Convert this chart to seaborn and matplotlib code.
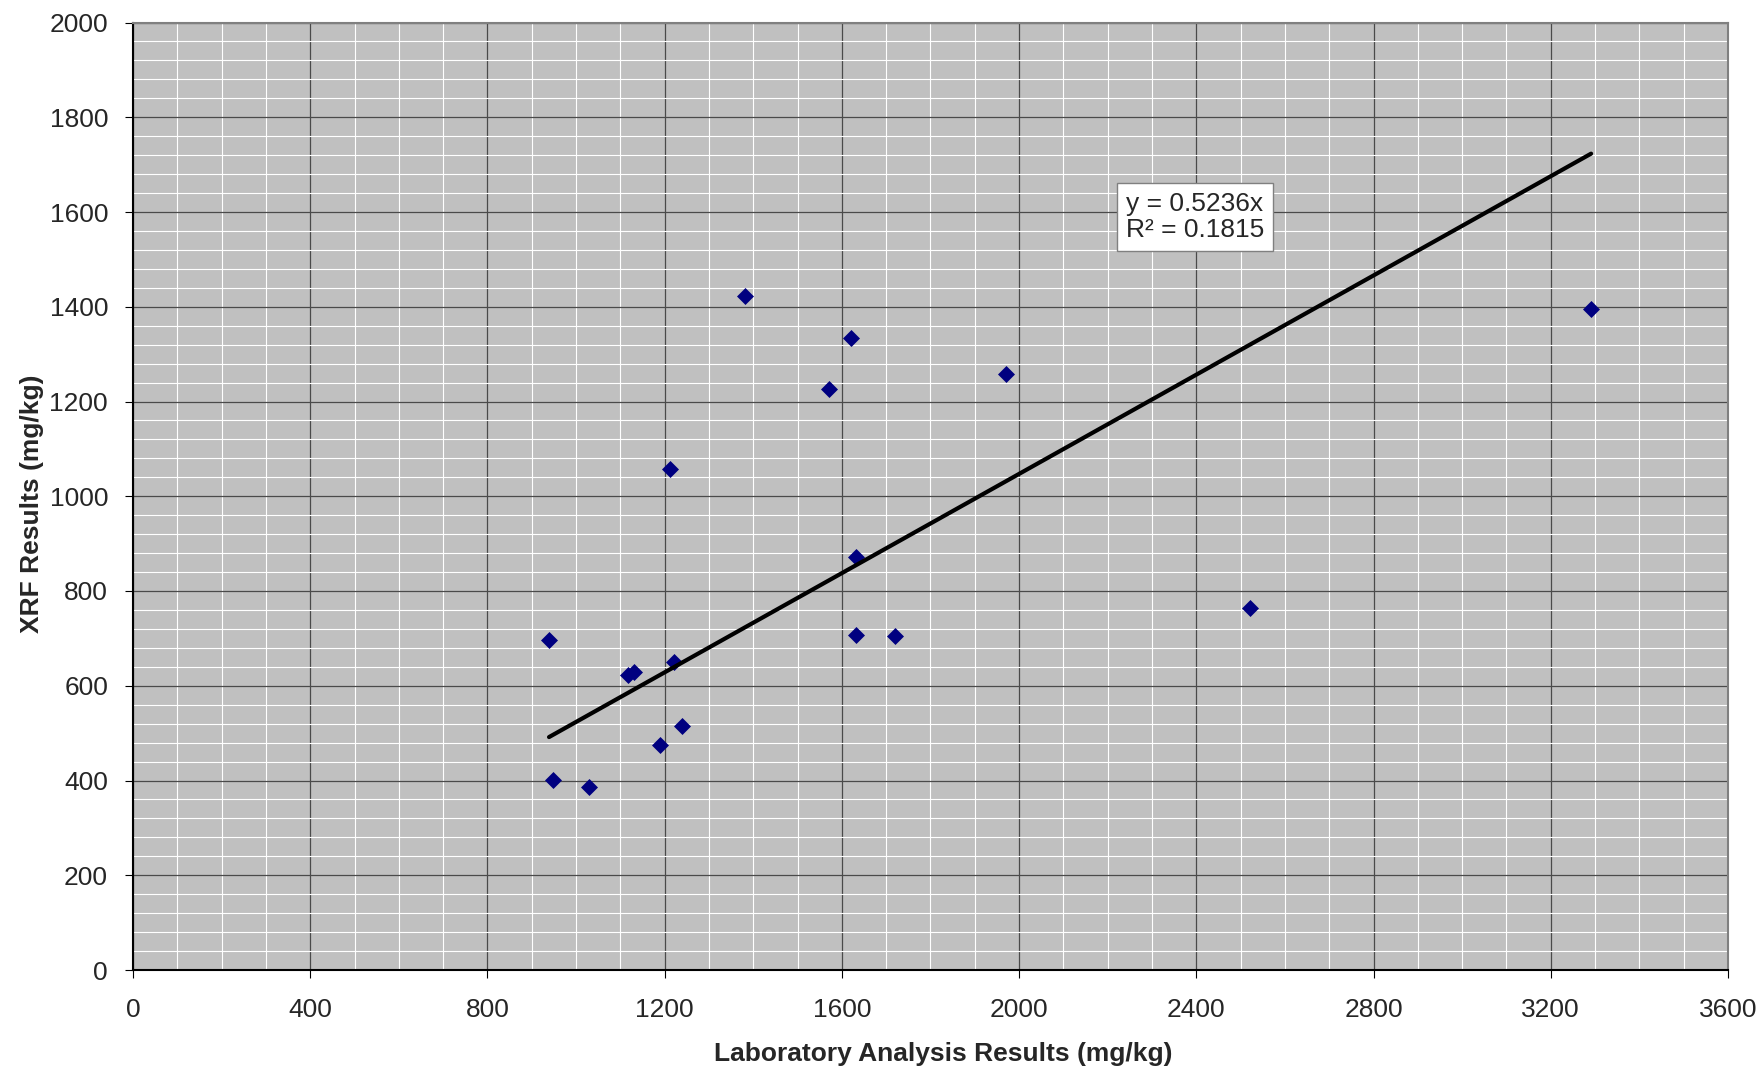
import numpy as np
import pandas as pd
import matplotlib
matplotlib.use("Agg")
import matplotlib.pyplot as plt
from matplotlib.ticker import MultipleLocator
import seaborn as sns

# ── Data ──────────────────────────────────────────────────────────────────────
lab_results = [939, 949, 1030, 1118, 1130, 1190, 1211, 1220, 1240, 1381,
               1571, 1621, 1631, 1631, 1720, 1971, 2521, 3291]
xrf_results = [697, 402, 386, 623, 630, 475, 1058, 650, 515, 1422,
               1226, 1334, 871, 708, 706, 1257, 764, 1396]
trend_slope = 0.5236
trend_r2 = 0.1815

x_ticks = [0, 400, 800, 1200, 1600, 2000, 2400, 2800, 3200, 3600]
y_ticks = [0, 200, 400, 600, 800, 1000, 1200, 1400, 1600, 1800, 2000]

df = pd.DataFrame({"lab": lab_results, "xrf": xrf_results})
trend = pd.DataFrame({"lab": [df["lab"].min(), df["lab"].max()]})
trend["xrf"] = trend_slope * trend["lab"]

# ── Style ─────────────────────────────────────────────────────────────────────
sns.set_theme(style="white")
plt.rcParams["font.family"] = ["Liberation Sans", "DejaVu Sans"]
FS = 19

fig = plt.figure(figsize=(17.65, 10.7), dpi=100)
W, H = 1765, 1070
left, right, top, bottom = 133, 1728, 22.5, 970
ax = fig.add_axes([left / W, 1 - bottom / H, (right - left) / W, (bottom - top) / H])
ax.set_facecolor("#c0c0c0")

sns.scatterplot(data=df, x="lab", y="xrf", marker="D", s=75, color="#000080",
                linewidth=0, ax=ax, zorder=3)
sns.lineplot(data=trend, x="lab", y="xrf", color="black", linewidth=3.0,
             ax=ax, zorder=4)

ax.set_xlim(0, 3600)
ax.set_ylim(0, 2000)
ax.set_xticks(x_ticks)
ax.set_yticks(y_ticks)
ax.xaxis.set_minor_locator(MultipleLocator(100))
ax.yaxis.set_minor_locator(MultipleLocator(40))

ax.grid(which="minor", color="white", linewidth=0.8, zorder=0)
ax.grid(which="major", color="#4a4a4a", linewidth=0.9, zorder=1)
ax.set_axisbelow(True)

ax.tick_params(which="major", direction="out", length=6, width=0.8,
               color="black", labelsize=FS, bottom=True, left=True)
ax.tick_params(axis="x", pad=14)
ax.tick_params(axis="y", pad=12)
ax.tick_params(which="minor", length=0)

for side in ["top", "right"]:
    ax.spines[side].set_color("#808080")
    ax.spines[side].set_linewidth(1.5)
for side in ["left", "bottom"]:
    ax.spines[side].set_color("black")
    ax.spines[side].set_linewidth(1.5)

ax.set_xlabel("Laboratory Analysis Results (mg/kg)", fontsize=FS, fontweight="bold")
ax.set_ylabel("XRF Results (mg/kg)", fontsize=FS, fontweight="bold")
ax.xaxis.set_label_coords(0.508, -0.076)
ax.yaxis.set_label_coords(-0.056, 0.492)

ax.text(2241, 1589, f"y = {trend_slope:.4f}x\nR² = {trend_r2:.4f}",
        fontsize=FS, ha="left", va="center", linespacing=1.1, zorder=5,
        bbox=dict(boxstyle="square,pad=0.35", facecolor="white",
                  edgecolor="#808080", linewidth=1))

fig.savefig("out.png", dpi=100)
